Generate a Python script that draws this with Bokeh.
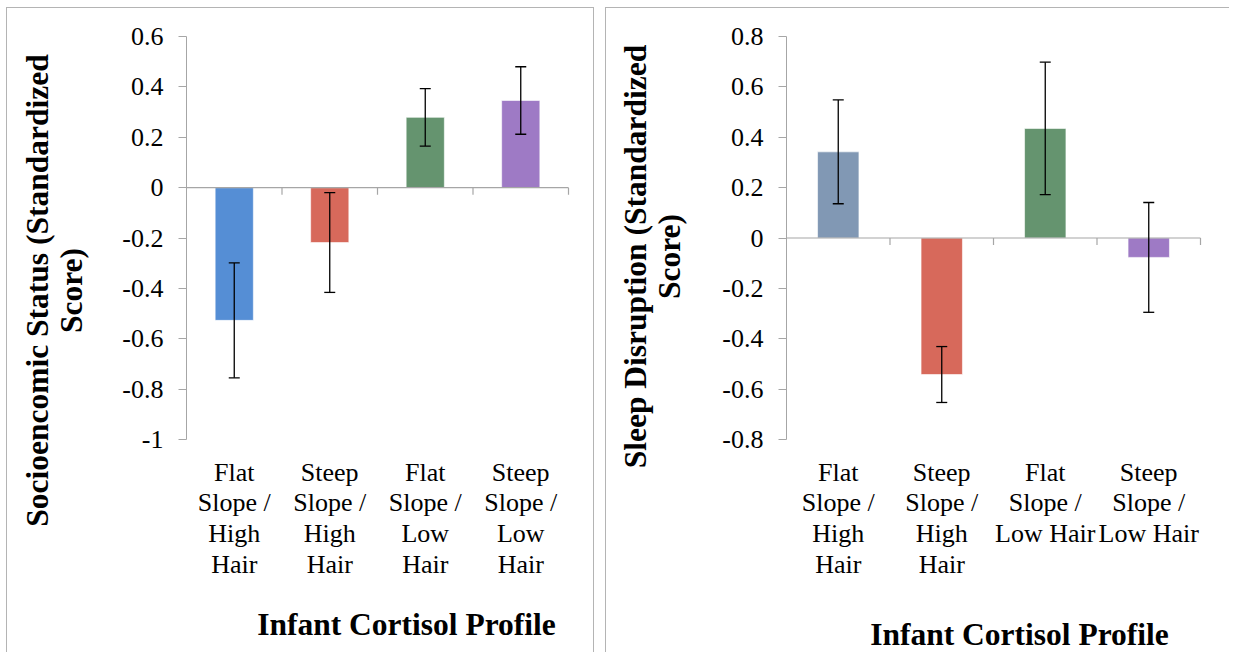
import math
from bokeh.plotting import figure
from bokeh.models import (Range1d, FixedTicker, LinearAxis, Whisker, ColumnDataSource,
                          TeeHead, Label)
from bokeh.layouts import row
from bokeh.embed import file_html
from bokeh.resources import INLINE

# ---------------- data ----------------
ses_categories = ["Flat\nSlope /\nHigh\nHair", "Steep\nSlope /\nHigh\nHair",
                  "Flat\nSlope /\nLow\nHair", "Steep\nSlope /\nLow\nHair"]
sleep_categories = ["Flat\nSlope /\nHigh\nHair", "Steep\nSlope /\nHigh\nHair",
                    "Flat\nSlope /\nLow Hair", "Steep\nSlope /\nLow Hair"]
ses_values = [-0.527, -0.218, 0.279, 0.346]
ses_errors = [0.228, 0.198, 0.114, 0.134]
sleep_values = [0.342, -0.542, 0.435, -0.077]
sleep_errors = [0.206, 0.111, 0.263, 0.218]
ses_colors = ["#558ed5", "#d7695b", "#65946f", "#9e7ac5"]
sleep_colors = ["#8198b4", "#d7695b", "#65946f", "#9e7ac5"]
ses_ticks = [-1, -0.8, -0.6, -0.4, -0.2, 0, 0.2, 0.4, 0.6]
sleep_ticks = [-0.8, -0.6, -0.4, -0.2, 0, 0.2, 0.4, 0.6, 0.8]
ses_ylabel = ["Socioencomic Status (Standardized", "Score)"]
sleep_ylabel = ["Sleep Disruption (Standardized", "Score)"]
x_title = "Infant Cortisol Profile"

FONT = "Liberation Serif"
TICK_SIZE = "26px"
GREY = "#a6a6a6"
BORDER = "1px solid #b4b4b4"
MARGIN_TOP, MARGIN_LEFT, SPACING = 7, 6, 11
CONTENT_H = 645
PLOT_TOP, PLOT_BOTTOM = 36, 439      # page pixels of the value axis ends


def make_panel(cats, vals, errs, colors, ticks, ylab, content_left, content_w,
               axis_left, axis_right, ylab_x, ylab_cy, xt_cx, xt_base, right_border):
    n = len(cats)
    pos = [i + 1 for i in range(n)]
    bounds = [q + 0.5 for q in pos]
    lo, hi = min(ticks), max(ticks)
    content_top = MARGIN_TOP + 1
    # pixel <-> data mapping so that the whole canvas is the frame
    xu = (axis_right - axis_left) / n
    yu = (PLOT_BOTTOM - PLOT_TOP) / (hi - lo)
    x0 = 0.5 - (axis_left - content_left) / xu
    x1 = x0 + content_w / xu
    y1 = hi + (PLOT_TOP - content_top) / yu
    y0 = y1 - CONTENT_H / yu

    def px2x(px):
        return x0 + (px - content_left) / xu

    def py2y(py):
        return y1 - (py - content_top) / yu

    p = figure(output_backend="svg", toolbar_location=None,
               x_range=Range1d(x0, x1), y_range=Range1d(y0, y1),
               width=content_w, height=CONTENT_H,
               x_axis_location=None, y_axis_location=None,
               min_border_left=0, min_border_right=0,
               min_border_top=0, min_border_bottom=0)
    st = {"border-top": BORDER, "border-left": BORDER}
    if right_border:
        st["border-right"] = BORDER
    p.styles = st
    p.xgrid.visible = False
    p.ygrid.visible = False
    p.outline_line_color = None
    p.background_fill_color = "white"
    p.border_fill_color = "white"

    src = ColumnDataSource(dict(x=pos, top=vals, color=colors,
                                upper=[v + e for v, e in zip(vals, errs)],
                                lower=[v - e for v, e in zip(vals, errs)]))
    p.vbar(x="x", top="top", bottom=0, width=0.4, fill_color="color",
           line_color="white", line_alpha=0.6, line_width=1, source=src)

    # zero line and downward ticks at category boundaries
    p.segment(x0=[0.5], x1=[n + 0.5], y0=[0], y1=[0], line_color=GREY, line_width=1.2)
    tick_len = 7 / yu
    p.segment(x0=bounds, x1=bounds, y0=[0] * n, y1=[-tick_len] * n,
              line_color=GREY, line_width=1.2)

    wh = Whisker(source=src, base="x", upper="upper", lower="lower",
                 line_color="black", line_width=1.3, level="annotation",
                 upper_head=TeeHead(size=11, line_color="black", line_width=1.3),
                 lower_head=TeeHead(size=11, line_color="black", line_width=1.3))
    p.add_layout(wh)

    # value axis
    ya = LinearAxis(fixed_location=0.5, bounds=(lo, hi), ticker=FixedTicker(ticks=ticks))
    ya.major_label_overrides = {t: f"{t:g}" for t in ticks}
    ya.major_label_text_font = FONT
    ya.major_label_text_font_size = TICK_SIZE
    ya.major_label_text_color = "black"
    ya.major_label_standoff = 15
    ya.major_tick_in = 0
    ya.major_tick_out = 8
    ya.minor_tick_line_color = None
    ya.axis_line_color = GREY
    ya.major_tick_line_color = GREY
    p.add_layout(ya, "left")

    # category labels
    ax1 = LinearAxis(fixed_location=lo, bounds=(0.5, n + 0.5),
                     ticker=FixedTicker(ticks=pos),
                     major_label_overrides={q: c for q, c in zip(pos, cats)})
    ax1.axis_line_color = None
    ax1.major_tick_line_color = None
    ax1.minor_tick_line_color = None
    ax1.major_tick_out = 0
    ax1.major_tick_in = 0
    ax1.major_label_text_font = FONT
    ax1.major_label_text_font_size = TICK_SIZE
    ax1.major_label_text_color = "black"
    ax1.major_label_text_line_height = 1.06
    ax1.major_label_standoff = 18
    p.add_layout(ax1, "below")

    for line, lx in zip(ylab, ylab_x):
        p.add_layout(Label(x=px2x(lx), y=py2y(ylab_cy), text=line, angle=math.pi / 2,
                           text_font=FONT, text_font_style="bold", text_font_size="31.5px",
                           text_align="center", text_baseline="alphabetic",
                           text_color="black"))
    p.add_layout(Label(x=px2x(xt_cx), y=py2y(xt_base), text=x_title,
                       text_font=FONT, text_font_style="bold", text_font_size="31.5px",
                       text_align="center", text_baseline="alphabetic",
                       text_color="black"))
    return p


left_content = MARGIN_LEFT + 1
left_w = 588
right_content = left_content + left_w + 1 + SPACING + 1
right_w = 624

p1 = make_panel(ses_categories, ses_values, ses_errors, ses_colors, ses_ticks, ses_ylabel,
                content_left=left_content, content_w=left_w, axis_left=186, axis_right=568,
                ylab_x=[37, 71], ylab_cy=290, xt_cx=406, xt_base=624, right_border=True)
p2 = make_panel(sleep_categories, sleep_values, sleep_errors, sleep_colors, sleep_ticks,
                sleep_ylabel, content_left=right_content, content_w=right_w,
                axis_left=788, axis_right=1202,
                ylab_x=[637, 671], ylab_cy=256, xt_cx=1021, xt_base=634, right_border=False)

layout = row(p1, p2, spacing=SPACING, margin=(MARGIN_TOP, 0, 0, MARGIN_LEFT))
open("out.html", "w").write(file_html(layout, INLINE))
